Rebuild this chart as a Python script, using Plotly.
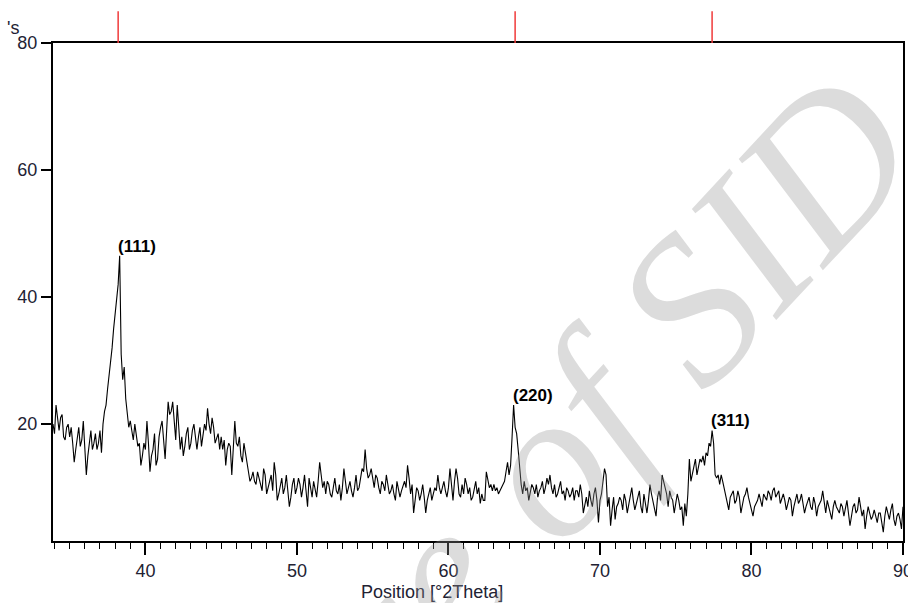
import plotly.graph_objects as go

# ---- data ----
start_2theta = 33.9
step_2theta = 0.1
counts = [
    20,
    18.5, 23, 20.5, 19, 21, 21.5, 18, 17.5, 19.5, 20,          # 34
    18, 19.5, 17, 14, 16, 18, 19.5, 16.5, 17.5, 20.5,          # 35
    16, 12, 15, 17.5, 19, 16, 17, 18.5, 16, 17,                # 36
    19, 15.5, 20, 22, 23, 25.5, 27.5, 29.5, 32, 35,            # 37
    37, 40, 42, 46.5, 31, 27, 29, 24, 21.5, 19.5,              # 38
    20.5, 18.5, 17.5, 20, 18.5, 16.5, 17, 13.5, 15, 17,        # 39
    16, 20.5, 17, 12.5, 15, 16, 18.5, 13.5, 14.5, 18,          # 40
    19.5, 20.5, 17.5, 14.5, 19, 23.5, 21.5, 22, 23.5, 20,      # 41
    17.5, 23, 19.5, 16, 18, 15, 16.5, 18.5, 19.5, 16,          # 42
    17, 19, 20, 17.5, 16, 18, 19.5, 16.5, 18, 20,              # 43
    19, 22.5, 20, 18.5, 21, 19.5, 17, 18, 18.5, 16,            # 44
    18, 16, 17.5, 13.5, 16, 17, 16.5, 12, 15.5, 20.5,          # 45
    17, 16.5, 18, 15, 14, 17, 15.5, 13.5, 12.5, 11,            # 46
    11.5, 12.5, 11, 10.5, 12.5, 11.5, 10.5, 9.5, 13, 12,       # 47
    9, 10, 11, 12, 9.5, 14, 12, 8, 9, 10.5,                    # 48
    11.5, 9, 10, 12, 9.5, 7, 8.5, 10.5, 11.5, 9,               # 49
    10, 11.5, 10.5, 8.5, 10, 12, 9.5, 7, 11.5, 10,             # 50
    8.5, 11, 10, 8.5, 11, 14, 12, 10, 11, 9,                   # 51
    11, 10.5, 9, 8.5, 10, 11.5, 9.5, 9, 10.5, 8,               # 52
    10, 13, 11, 9, 10, 11, 9.5, 8.5, 10, 12,                   # 53
    9.5, 10, 11.5, 13, 12.5, 16, 13, 11.5, 12, 13,             # 54
    11.5, 10, 12, 11.5, 10, 9, 11, 10.5, 9.5, 12,              # 55
    10.5, 9, 9.5, 10.5, 9, 8, 11, 10, 8.5, 9.5,                # 56
    10.5, 11, 10, 13.5, 11.5, 9, 10.5, 6, 8, 10,               # 57
    9.5, 8, 9, 10.5, 8.5, 6, 8, 9, 10, 8,                      # 58
    9, 10, 9.5, 12, 10, 9, 10, 11, 9.5, 8.5,                   # 59
    10, 13, 10.5, 8, 11, 13, 11.5, 9, 8.5, 10.5,               # 60
    9, 11.5, 10.5, 9, 10, 8, 8.5, 10, 11, 9,                   # 61
    10, 7.5, 9, 8, 8, 12.5, 11, 10, 10.5, 9.5,                 # 62
    10.5, 9.5, 10, 9, 9.5, 10, 10.5, 11, 12.5, 14,             # 63
    12, 13.5, 18, 23, 19.5, 18.5, 16, 13, 10.5, 9,             # 64
    11, 9.5, 10, 8, 9, 10.5, 10, 9, 10.5, 8.5,                 # 65
    9.5, 10, 11, 9, 10, 11.5, 10.5, 12, 10, 9,                 # 66
    10.5, 8.5, 9, 10, 11, 9, 9.5, 8, 10, 9.5,                  # 67
    8.5, 9, 10, 8, 9.5, 9.5, 8.5, 10.5, 9, 6,                  # 68
    7.5, 8.5, 7, 9.5, 8, 7, 9, 10, 8, 4.5,                     # 69
    8, 9, 11, 13, 12, 7, 8.5, 4, 6.5, 8.5,                     # 70
    5, 7, 7.5, 8.5, 8, 6.5, 9, 8, 6, 7.5,                      # 71
    8.5, 10, 8, 6.5, 7.5, 8.5, 9.5, 7, 6, 9,                   # 72
    7.5, 6, 8, 10.5, 9, 8, 7, 5.5, 8.5, 9.5,                   # 73
    8, 12, 11, 10, 9, 7, 9.5, 8.5, 8, 6,                       # 74
    7.5, 9, 8, 6.5, 7, 4, 7.5, 5.5, 9, 14.5,                   # 75
    11, 12, 13.5, 14.5, 12, 13, 14.5, 14, 15, 13.5,            # 76
    15.5, 15, 17, 16.5, 19, 17, 12, 11.5, 12, 10.5,            # 77
    12, 11, 10, 9, 8, 6.5, 8.5, 9, 9.5, 7.5,                   # 78
    8, 9.5, 8.5, 6, 7.5, 8.5, 9, 10, 8.5, 7.5,                 # 79
    6.5, 5.5, 7, 7.5, 8, 9, 8, 7, 9, 8.5,                      # 80
    8, 9.5, 9, 8, 9.5, 10, 8.5, 9, 9.5, 7.5,                   # 81
    8.5, 9, 8, 6.5, 7.5, 8.5, 8, 5.5, 7, 8,                    # 82
    9, 7.5, 8, 9, 7.5, 6, 7, 8, 8.5, 7,                        # 83
    6.5, 8.5, 7.5, 5.5, 7, 7.5, 8, 9.5, 7.5, 6,                # 84
    8, 7, 6.5, 5, 7, 8, 7, 6.5, 6, 7.5,                        # 85
    7, 5.5, 6.5, 8, 6, 4, 5.5, 7, 7.5, 6,                      # 86
    6.5, 8.5, 7, 5.5, 6.5, 3.5, 5.5, 7, 6, 5,                  # 87
    5.5, 6.5, 5.5, 4.5, 6, 6, 4.5, 3, 5.5, 7,                  # 88
    6, 5, 6.5, 7.5, 5, 4, 5.5, 6, 5, 3.5,                      # 89
    7,
]
two_theta = [round(start_2theta + step_2theta * i, 2) for i in range(len(counts))]

x_tick_vals = [40, 50, 60, 70, 80, 90]
y_tick_vals = [20, 40, 60, 80]
reference_lines = [38.2, 64.4, 77.4]
peak_labels = ["(111)", "(220)", "(311)"]
peak_label_x = [38.26, 64.35, 77.42]
peak_label_y = [46.5, 23.0, 19.0]

x_title = "Position [°2Theta]"
y_title_fragment = "'s"
watermark = "Archive of SID"

# ---- figure ----
tick_font = dict(family="Liberation Sans Narrow, Arial Narrow, Liberation Sans, Arial",
                 size=18, color="#222233")

fig = go.Figure()
fig.add_trace(go.Scatter(
    x=two_theta, y=counts, mode="lines",
    line=dict(color="black", width=1.1),
    hoverinfo="skip", showlegend=False,
))

shapes = []
for xv in reference_lines:
    shapes.append(dict(type="line", xref="x", yref="paper",
                       x0=xv, x1=xv, y0=1.0, y1=1.064,
                       line=dict(color="#f03a3a", width=1.5)))

annotations = []
for txt, px, py in zip(peak_labels, peak_label_x, peak_label_y):
    annotations.append(dict(
        x=px, y=py, xref="x", yref="y", text="<b>" + txt + "</b>",
        showarrow=False, xanchor="left", yanchor="bottom",
        xshift=-3, yshift=-2,
        font=dict(family="Liberation Sans, Arial", size=17, color="black"),
    ))

annotations.append(dict(
    x=0.446, y=0, xref="paper", yref="paper", text=x_title,
    showarrow=False, xanchor="center", yanchor="middle", yshift=-51,
    font=dict(family="Liberation Sans Narrow, Arial Narrow, Liberation Sans, Arial",
              size=18, color="#222233"),
))
annotations.append(dict(
    x=-0.047, y=1.03, xref="paper", yref="paper", text=y_title_fragment,
    showarrow=False, xanchor="center", yanchor="middle",
    font=tick_font,
))
annotations.append(dict(
    x=(449 - 53) / 850, y=(541 - 567) / 498, xref="paper", yref="paper",
    text="<i>" + watermark + "</i>", textangle=-47,
    showarrow=False, xanchor="center", yanchor="middle",
    font=dict(family="Liberation Serif, Times New Roman, serif", size=210,
              color="rgba(150,150,150,0.33)"),
))

fig.update_layout(
    width=908, height=603,
    margin=dict(l=53, r=5, t=43, b=62, autoexpand=False),
    paper_bgcolor="white", plot_bgcolor="white",
    shapes=shapes, annotations=annotations,
    showlegend=False,
    xaxis=dict(
        range=[33.9, 90], tickmode="array", tickvals=x_tick_vals,
        ticks="outside", ticklen=12, tickwidth=1.5, tickcolor="black",
        minor=dict(tickmode="linear", tick0=0, dtick=1, ticks="outside",
                   ticklen=6, tickwidth=1.3, tickcolor="black"),
        showline=True, linewidth=2, linecolor="black", mirror=True,
        showgrid=False, zeroline=False, tickfont=tick_font, automargin=False,
        ticklabeloverflow="allow",
    ),
    yaxis=dict(
        range=[1.6, 80], tickmode="array", tickvals=y_tick_vals,
        ticks="outside", ticklen=10, tickwidth=1.5, tickcolor="black",
        showline=True, linewidth=2, linecolor="black", mirror=True,
        showgrid=False, zeroline=False, tickfont=tick_font, automargin=False,
        ticklabeloverflow="allow",
    ),
)

# remove the page's default body margin so the figure fills the window exactly
fig.write_html(
    "out.html",
    config={"displayModeBar": False},
    post_script="document.body.style.margin='0';document.body.style.overflow='hidden';",
)
